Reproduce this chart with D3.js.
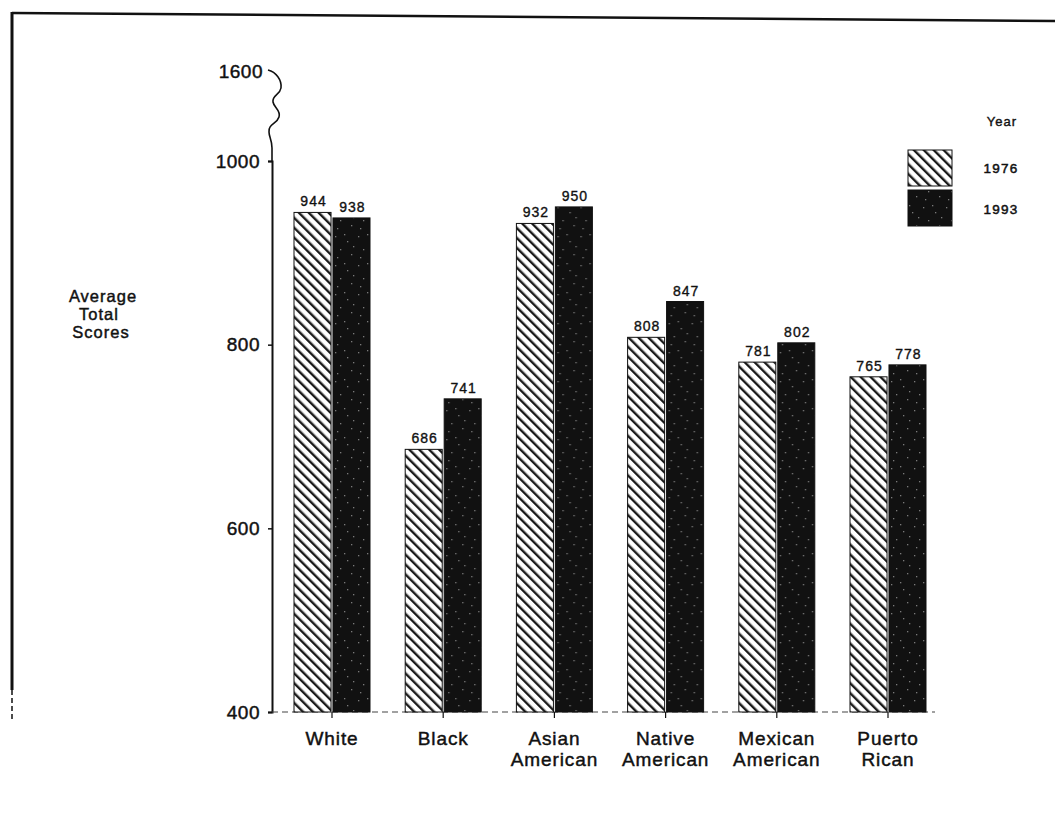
<!DOCTYPE html>
<html>
<head>
<meta charset="utf-8">
<script src="https://cdn.jsdelivr.net/npm/d3@7/dist/d3.min.js"></script>
<style>
  html, body { margin: 0; padding: 0; background: #fff; }
  svg { display: block; }
  text { font-family: "Liberation Sans", Arial, Helvetica, sans-serif; fill: #111; stroke: #111; stroke-width: 0.45px; }
</style>
</head>
<body>
<svg id="chart" width="1055" height="815"></svg>
<script>
// Average total scores by group, 1976 vs 1993
const categories = ["White", "Black", "Asian\nAmerican", "Native\nAmerican", "Mexican\nAmerican", "Puerto\nRican"];
const years = ["1976", "1993"];
const scores1976 = [944, 686, 932, 808, 781, 765];
const scores1993 = [938, 741, 950, 847, 802, 778];
const yTicks = [400, 600, 800, 1000];
const breakLabel = "1600";

const svg = d3.select("#chart");
const defs = svg.append("defs");

// diagonal hatch (top-left to bottom-right) for 1976
const hatch = defs.append("pattern")
  .attr("id", "hatch").attr("patternUnits", "userSpaceOnUse")
  .attr("width", 7).attr("height", 7)
  .attr("patternTransform", "rotate(-45)");
hatch.append("rect").attr("width", 7).attr("height", 7).attr("fill", "#fff");
hatch.append("rect").attr("x", 0).attr("width", 2.4).attr("height", 7).attr("fill", "#1a1a1a");

// dark stipple for 1993
const stip = defs.append("pattern")
  .attr("id", "stipple").attr("patternUnits", "userSpaceOnUse")
  .attr("width", 23).attr("height", 29);
stip.append("rect").attr("width", 23).attr("height", 29).attr("fill", "#111");
[[3,4],[15,9],[8,17],[19,22],[5,25],[12,2],[21,14]].forEach(([cx, cy]) =>
  stip.append("rect").attr("x", cx).attr("y", cy).attr("width", 1.3).attr("height", 1.3).attr("fill", "#7a7a7a"));

// page frame lines
svg.append("line").attr("x1", 12).attr("y1", 13).attr("x2", 1055).attr("y2", 21)
  .attr("stroke", "#111").attr("stroke-width", 2.5);
svg.append("line").attr("x1", 12).attr("y1", 12).attr("x2", 12).attr("y2", 690)
  .attr("stroke", "#111").attr("stroke-width", 3);
svg.append("line").attr("x1", 12).attr("y1", 690).attr("x2", 12).attr("y2", 722)
  .attr("stroke", "#111").attr("stroke-width", 1.5).attr("stroke-dasharray", "5,3");

const y = d3.scaleLinear().domain([400, 1000]).range([712, 161]);
const x0 = d3.scalePoint().domain(categories).range([332, 888]);
const x1 = d3.scaleBand().domain(years).range([-38, 38]).paddingInner(0.05);
const axisX = 272;

// y axis
const yAxis = svg.append("g")
  .attr("transform", `translate(${axisX},0)`)
  .call(d3.axisLeft(y).tickValues(yTicks).tickSize(4).tickPadding(8).tickFormat(d3.format("d")));
yAxis.select(".domain").attr("stroke", "#111").attr("stroke-width", 2);
yAxis.selectAll(".tick line").attr("stroke", "#111").attr("stroke-width", 1.5);
yAxis.selectAll(".tick text").attr("font-size", 19).attr("fill", "#111")
  .attr("letter-spacing", 0.5)
  .attr("font-family", "Liberation Sans, Arial, sans-serif");

// axis break squiggle up to the 1600 label
svg.append("path")
  .attr("d", `M${axisX},${y(1000)} L${axisX},148 C272,140 269,137 269,132 C268,124 277,124 279,117
             C281,110 274,108 273,102 C272,95 280,95 281,88 C282,80 276,72 268,70`)
  .attr("fill", "none").attr("stroke", "#111").attr("stroke-width", 1.6);
svg.append("text").attr("x", axisX - 9).attr("y", 71).attr("dy", "0.35em")
  .attr("text-anchor", "end").attr("font-size", 19).attr("letter-spacing", 0.5).text(breakLabel);

// baseline
svg.append("line").attr("x1", axisX).attr("x2", 935).attr("y1", y(400)).attr("y2", y(400))
  .attr("stroke", "#444").attr("stroke-width", 1.2).attr("stroke-dasharray", "6,4");

// bars
const rows = categories.map((c, i) => ({ cat: c, vals: [scores1976[i], scores1993[i]] }));
const groups = svg.append("g").selectAll("g").data(rows).join("g")
  .attr("transform", d => `translate(${x0(d.cat)},0)`);

groups.selectAll("rect").data(d => d.vals.map((v, j) => ({ year: years[j], v })))
  .join("rect")
  .attr("x", d => x1(d.year)).attr("width", x1.bandwidth())
  .attr("y", d => y(d.v)).attr("height", d => y(400) - y(d.v))
  .attr("fill", d => d.year === "1976" ? "url(#hatch)" : "url(#stipple)")
  .attr("stroke", "#111").attr("stroke-width", 1);

groups.selectAll("text.val").data(d => d.vals.map((v, j) => ({ year: years[j], v })))
  .join("text").attr("class", "val")
  .attr("x", d => x1(d.year) + x1.bandwidth() / 2 + 1)
  .attr("y", d => y(d.v) - 6)
  .attr("text-anchor", "middle").attr("font-size", 14).attr("letter-spacing", 1)
  .style("stroke-width", "0.35px")
  .text(d => d.v);

// small tick under each group
groups.append("line").attr("x1", 0).attr("x2", 0).attr("y1", y(400)).attr("y2", y(400) + 6)
  .attr("stroke", "#111").attr("stroke-width", 1.2);

// category labels, one text per line
groups.selectAll("text.cat").data(d => d.cat.split("\n")).join("text").attr("class", "cat")
  .attr("text-anchor", "middle").attr("font-size", 19).attr("letter-spacing", 0.9)
  .attr("x", 0).attr("y", (d, i) => 745 + i * 21).text(d => d);

// y axis title
svg.selectAll("text.ytitle").data(["Average", "Total", "Scores"]).join("text").attr("class", "ytitle")
  .attr("text-anchor", "middle").attr("font-size", 16.5).attr("letter-spacing", 1)
  .attr("x", (d, i) => [103, 99, 101][i]).attr("y", (d, i) => 302 + i * 18).text(d => d);

// legend
const legend = svg.append("g");
legend.append("text").attr("x", 1002).attr("y", 126).attr("text-anchor", "middle")
  .attr("font-size", 13).attr("letter-spacing", 1).style("stroke-width", "0.4px").text("Year");
years.forEach((yr, i) => {
  legend.append("rect").attr("x", 908).attr("y", 150 + i * 40).attr("width", 44).attr("height", 36)
    .attr("fill", i === 0 ? "url(#hatch)" : "url(#stipple)").attr("stroke", "#111").attr("stroke-width", 1);
  legend.append("text").attr("x", 1001).attr("y", 173 + i * 41).attr("text-anchor", "middle")
    .attr("font-size", 13.5).attr("letter-spacing", 1.2).style("stroke-width", "0.5px").text(yr);
});
</script>
</body>
</html>
